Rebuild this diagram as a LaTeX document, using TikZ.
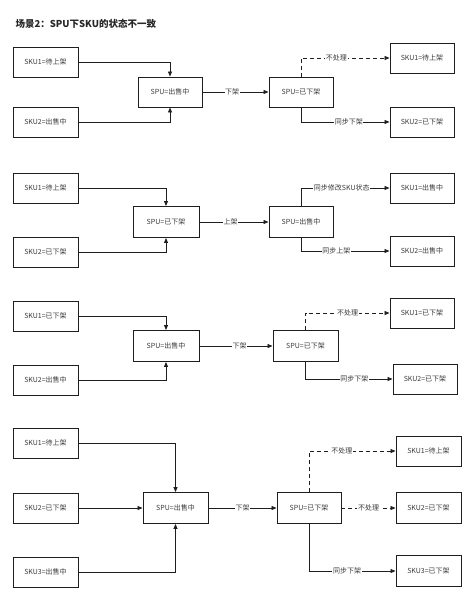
\documentclass[tikz,border=0pt]{standalone}
\usepackage{fontspec}
\setmainfont{Noto Sans CJK SC}
\usetikzlibrary{arrows.meta}
\definecolor{ln}{HTML}{1E1E1E}
\definecolor{tx}{HTML}{3A3A3A}
\begin{document}
\begin{tikzpicture}[x=1pt,y=-1pt,
  box/.style={draw=ln,line width=0.9pt,minimum width=65pt,minimum height=30pt,inner sep=0pt,font=\fontsize{7}{8}\selectfont,text=tx,fill=white},
  arr/.style={draw=ln,line width=0.8pt,-{Triangle[length=5pt,width=4pt]}},
  dsh/.style={arr,dash pattern=on 4pt off 3pt},
  lbl/.style={fill=white,inner sep=0.6pt,font=\fontsize{7}{8}\selectfont,text=tx}]
\useasboundingbox (0,0) rectangle (474,601);
\node[anchor=west,font=\fontsize{9.5}{11}\selectfont\bfseries,text=black!85] (title) at (12,24) {场景2：SPU下SKU的状态不一致};

% ---- section 1
\node[box] (a1) at (45.5,62) {SKU1=待上架};
\node[box] (a2) at (45.5,122) {SKU2=出售中};
\node[box,minimum width=64pt] (a3) at (170,92) {SPU=出售中};
\node[box,minimum width=64pt] (a4) at (301,92) {SPU=已下架};
\node[box,minimum width=64pt] (a5) at (422,58) {SKU1=待上架};
\node[box,minimum width=64pt] (a6) at (422,122) {SKU2=已下架};
\draw[arr] (a1.east) -| (a3.north);
\draw[arr] (a2.east) -| (a3.south);
\draw[arr] (a3.east) -- node[lbl,pos=0.45] {下架} (a4.west);
\draw[dsh] (a4.north) |- node[lbl,pos=0.7] {不处理} (a5.west);
\draw[arr] (a4.south) |- node[lbl,pos=0.77] {同步下架} (a6.west);

% ---- section 2
\node[box] (b1) at (45.5,188) {SKU1=待上架};
\node[box] (b2) at (45.5,252) {SKU2=已下架};
\node[box,minimum width=66pt,minimum height=31pt] (b3) at (166,222) {SPU=已下架};
\node[box,minimum width=64pt,minimum height=31pt] (b4) at (301,222) {SPU=出售中};
\node[box,minimum width=64pt] (b5) at (422,188) {SKU1=出售中};
\node[box,minimum width=64pt] (b6) at (422,251) {SKU2=出售中};
\draw[arr] (b1.east) -| (b3.north);
\draw[arr] (b2.east) -| (b3.south);
\draw[arr] (b3.east) -- node[lbl,pos=0.45] {上架} (b4.west);
\draw[arr] (b4.north) |- node[lbl,pos=0.73] {同步修改SKU状态} (b5.west);
\draw[arr] (b4.south) |- node[lbl,pos=0.7] {同步上架} (b6.west);

% ---- section 3
\node[box] (c1) at (45.5,316) {SKU1=已下架};
\node[box] (c2) at (45.5,380) {SKU2=出售中};
\node[box,minimum width=66pt,minimum height=31pt] (c3) at (166,346) {SPU=出售中};
\node[box,minimum height=31pt] (c4) at (305.5,346) {SPU=已下架};
\node[box,minimum width=64pt] (c5) at (422,313) {SKU1=已下架};
\node[box,minimum width=64pt] (c6) at (425,379) {SKU2=已下架};
\draw[arr] (c1.east) -| (c3.north);
\draw[arr] (c2.east) -| (c3.south);
\draw[arr] (c3.east) -- node[lbl,pos=0.55] {下架} (c4.west);
\draw[dsh] (c4.north) |- node[lbl,pos=0.75] {不处理} (c5.west);
\draw[arr] (c4.south) |- node[lbl,pos=0.78] {同步下架} (c6.west);

% ---- section 4
\node[box] (d1) at (45.5,443) {SKU1=待上架};
\node[box] (d2) at (45.5,508) {SKU2=已下架};
\node[box] (d3) at (45.5,572) {SKU3=出售中};
\node[box,minimum height=31pt] (d4) at (175.5,508) {SPU=出售中};
\node[box,minimum width=64pt,minimum height=31pt] (d5) at (309,508) {SPU=已下架};
\node[box] (d6) at (428.5,451) {SKU1=待上架};
\node[box,minimum height=31pt] (d7) at (428.5,508) {SKU2=已下架};
\node[box,minimum height=31pt] (d8) at (428.5,571) {SKU3=已下架};
\draw[arr] (d1.east) -| (d4.north);
\draw[arr] (d2.east) -- (d4.west);
\draw[arr] (d3.east) -| (d4.south);
\draw[arr] (d4.east) -- node[lbl,pos=0.5] {下架} (d5.west);
\draw[dsh] (d5.north) |- node[lbl,pos=0.69] {不处理} (d6.west);
\draw[dsh] (d5.east) -- node[lbl,pos=0.5] {不处理} (d7.west);
\draw[arr] (d5.south) |- node[lbl,pos=0.72] {同步下架} (d8.west);
\end{tikzpicture}
\end{document}
